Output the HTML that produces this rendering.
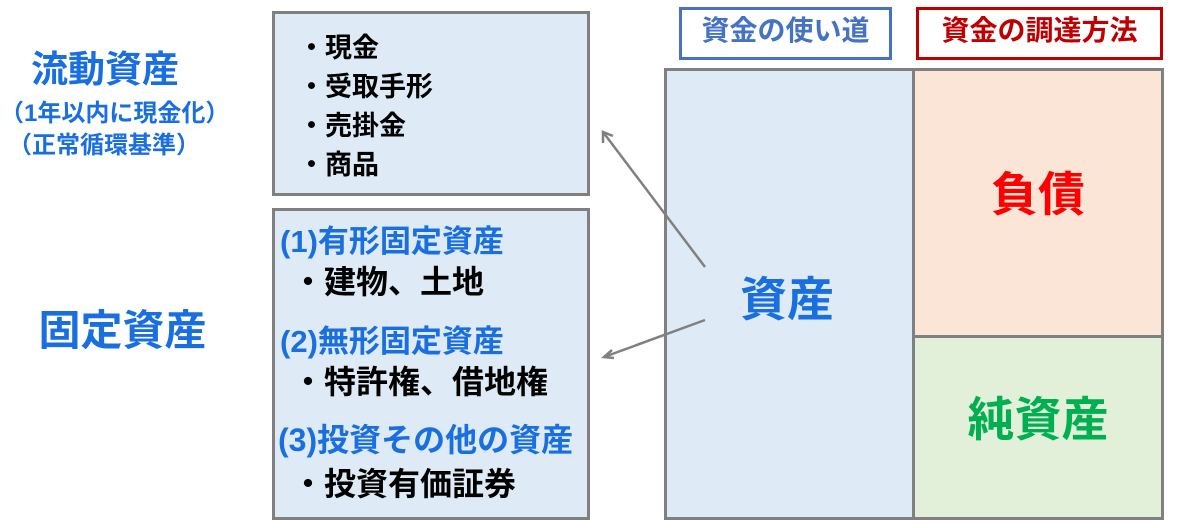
<!DOCTYPE html>
<html><head><meta charset="utf-8"><style>
body{margin:0;width:1182px;height:528px;background:#fff;position:relative;overflow:hidden;font-family:"Liberation Sans","Noto Sans CJK JP",sans-serif;font-weight:bold}
.a{position:absolute;white-space:nowrap;line-height:1}
.box{position:absolute;box-sizing:border-box;border:3px solid #808080}
.b{color:#1a6fe0}
</style></head><body>
<div class="box" style="left:272px;top:11px;width:318px;height:185px;background:#deeaf6"></div>
<div class="box" style="left:272px;top:208px;width:318px;height:312px;background:#deeaf6"></div>
<div class="box" style="left:664px;top:68px;width:500px;height:452px;background:#deeaf6"></div>
<div class="a" style="left:914px;top:71px;width:247px;height:265px;background:#fbe5d6"></div>
<div class="a" style="left:914px;top:337px;width:247px;height:180px;background:#e2f0d9"></div>
<div class="a" style="left:912px;top:70px;width:3px;height:448px;background:#808080"></div>
<div class="a" style="left:914px;top:335px;width:248px;height:3px;background:#808080"></div>

<div class="box" style="left:679px;top:7px;width:213px;height:53px;border-color:#4472c4;"></div>
<div class="a" style="left:680px;top:17px;width:211px;text-align:center;font-size:28px;color:#4472c4">資金の使い道</div>
<div class="box" style="left:916px;top:7px;width:247px;height:53px;border-color:#c00000;"></div>
<div class="a" style="left:916px;top:17px;width:247px;text-align:center;font-size:28px;color:#c00000">資金の調達方法</div>

<div class="a" style="left:662px;top:276px;width:250px;text-align:center;font-size:47px;color:#1a6fe0">資産</div>
<div class="a" style="left:914px;top:171px;width:248px;text-align:center;font-size:47px;color:#ff0000">負債</div>
<div class="a" style="left:914px;top:396px;width:248px;text-align:center;font-size:47px;color:#00b050">純資産</div>

<div class="a b" style="left:0;top:51px;width:210px;text-align:center;font-size:37px">流動資産</div>
<div class="a b" style="left:0;top:102px;width:192px;text-align:center;font-size:24px">（1年以内に現金化）</div>
<div class="a b" style="left:0;top:134px;width:208px;text-align:center;font-size:24px">（正常循環基準）</div>
<div class="a b" style="left:0;top:310px;width:245px;text-align:center;font-size:42px">固定資産</div>

<div class="a" style="left:298px;top:29px;font-size:27px;line-height:39px">・現金<br>・受取手形<br>・売掛金<br>・商品</div>

<div class="a b" style="left:280px;top:226px;font-size:31px">(1)有形固定資産</div>
<div class="a" style="left:292px;top:266px;font-size:32px">・建物、土地</div>
<div class="a b" style="left:280px;top:326px;font-size:31px">(2)無形固定資産</div>
<div class="a" style="left:292px;top:366px;font-size:32px">・特許権、借地権</div>
<div class="a b" style="left:278px;top:424px;font-size:32px">(3)投資その他の資産</div>
<div class="a" style="left:292px;top:468px;font-size:32px">・投資有価証券</div>

<svg class="a" style="left:0;top:0" width="1182" height="528">
<g stroke="#808080" stroke-width="2.5" fill="none">
<line x1="705" y1="267" x2="603" y2="132"/>
<polyline points="603,143 603,132 613,136"/>
<line x1="705" y1="320" x2="604" y2="357"/>
<polyline points="612,350 604,357 614,358"/>
</g></svg>
</body></html>
